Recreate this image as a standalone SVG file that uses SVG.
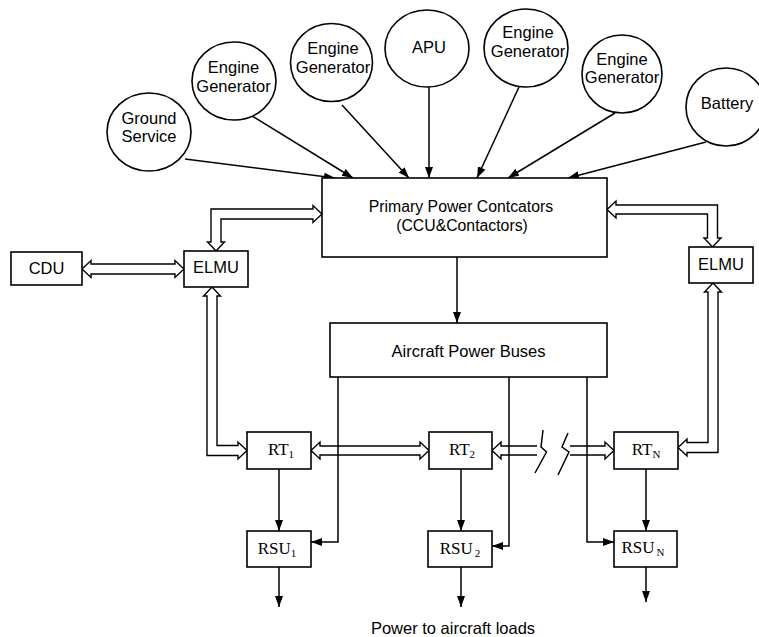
<svg xmlns="http://www.w3.org/2000/svg" width="759" height="637" viewBox="0 0 759 637">
<style>
.sh{fill:#fff;stroke:#000;stroke-width:1.6}
.ln{fill:none;stroke:#000;stroke-width:1.5}
.ha{fill:#fff;stroke:#000;stroke-width:1.4;stroke-linejoin:miter}
.t{font-family:"Liberation Sans",Arial,sans-serif;font-size:16.5px;fill:#000;text-anchor:middle}
.bt{font-size:15.8px}
.s{font-family:"Liberation Serif","Times New Roman",serif;font-size:17px;fill:#000;text-anchor:middle}
.sub{font-size:11px}
</style>
<defs>
<marker id="ah" markerUnits="userSpaceOnUse" markerWidth="12" markerHeight="10" refX="11" refY="4" orient="auto">
<path d="M0,0 L11,4 L0,8 z" fill="#000"/>
</marker>
</defs>
<rect width="759" height="637" fill="#fff"/>

<g id="connectors">
<line class="ln" x1="185" y1="159" x2="335" y2="178" marker-end="url(#ah)"/>
<line class="ln" x1="252" y1="116" x2="353" y2="178" marker-end="url(#ah)"/>
<line class="ln" x1="342" y1="105" x2="409" y2="178" marker-end="url(#ah)"/>
<line class="ln" x1="429" y1="87" x2="429" y2="178" marker-end="url(#ah)"/>
<line class="ln" x1="519" y1="87" x2="477" y2="178" marker-end="url(#ah)"/>
<line class="ln" x1="615" y1="113" x2="508" y2="178" marker-end="url(#ah)"/>
<line class="ln" x1="706" y1="142" x2="568" y2="178" marker-end="url(#ah)"/>
<line class="ln" x1="457" y1="257" x2="457" y2="323" marker-end="url(#ah)"/>

<polygon class="ha" points="82,269 91,260.5 91,264 175,264 175,260.5 184,269 175,277.5 175,274 91,274 91,277.5"/>
<polygon class="ha" points="216,251 224.5,242 221,242 221,219 313,219 313,222.5 322,214 313,205.5 313,209 211,209 211,242 207.5,242"/>
<polygon class="ha" points="607,209.5 616,201 616,205 717.5,205 717.5,238 721,238 712.5,247 704,238 707.5,238 707.5,214 616,214 616,218"/>
<polygon class="ha" points="212,287 220.5,296 217,296 217,445.5 238,445.5 238,442 247,450.5 238,459 238,455.5 207,455.5 207,296 203.5,296"/>
<polygon class="ha" points="713,283 721.5,292 718,292 718,452.5 687,452.5 687,456 678,447.5 687,439 687,442.5 708,442.5 708,292 704.5,292"/>
<polygon class="ha" points="311,450.5 320,442 320,446 420,446 420,442 429,450.5 420,459 420,455 320,455 320,459"/>
<path class="ha" d="M537,446 L501,446 L501,442 L492,450.5 L501,459 L501,455 L537,455"/>
<path class="ha" d="M570,446 L605,446 L605,442 L614,450.5 L605,459 L605,455 L570,455"/>
<polyline class="ln" points="543,430 541,447 546.5,452 535,473"/>
<polyline class="ln" points="568,433 562,447 569,452 558,475"/>

<line class="ln" x1="279" y1="469" x2="279" y2="531" marker-end="url(#ah)"/>
<line class="ln" x1="461" y1="469" x2="461" y2="531" marker-end="url(#ah)"/>
<line class="ln" x1="646" y1="469" x2="646" y2="531" marker-end="url(#ah)"/>
<polyline class="ln" points="338,377 338,542 311,542" marker-end="url(#ah)"/>
<polyline class="ln" points="509,377 509,546 492,546" marker-end="url(#ah)"/>
<polyline class="ln" points="587,377 587,542 614,542" marker-end="url(#ah)"/>
<line class="ln" x1="279" y1="567" x2="279" y2="607" marker-end="url(#ah)"/>
<line class="ln" x1="461" y1="567" x2="461" y2="607" marker-end="url(#ah)"/>
<line class="ln" x1="646" y1="567" x2="646" y2="602" marker-end="url(#ah)"/>
</g>

<g id="ground-service"><ellipse class="sh" cx="149" cy="132" rx="42" ry="39"/><text class="t" x="149" y="124">Ground</text><text class="t" x="149" y="142">Service</text></g>
<g id="engine-generator-1"><ellipse class="sh" cx="234" cy="81" rx="42" ry="39"/><text class="t" x="233.5" y="73">Engine</text><text class="t" x="233.5" y="92">Generator</text></g>
<g id="engine-generator-2"><ellipse class="sh" cx="331.5" cy="62.5" rx="41" ry="39"/><text class="t" x="333" y="54">Engine</text><text class="t" x="333" y="73">Generator</text></g>
<g id="apu"><ellipse class="sh" cx="427" cy="48.5" rx="42" ry="38.5"/><text class="t" x="429" y="53">APU</text></g>
<g id="engine-generator-3"><ellipse class="sh" cx="526" cy="48" rx="42" ry="39"/><text class="t" x="528" y="38">Engine</text><text class="t" x="528" y="57">Generator</text></g>
<g id="engine-generator-4"><ellipse class="sh" cx="622" cy="74" rx="40" ry="39"/><text class="t" x="622" y="65">Engine</text><text class="t" x="622" y="83">Generator</text></g>
<g id="battery"><ellipse class="sh" cx="726" cy="107" rx="40" ry="39"/><text class="t" x="727" y="109">Battery</text></g>

<g id="primary-power-contactors"><rect class="sh" x="322" y="178" width="285" height="79"/><text class="t bt" x="461" y="212">Primary Power Contcators</text><text class="t bt" x="462" y="231">(CCU&amp;Contactors)</text></g>
<g id="cdu"><rect class="sh" x="11" y="252" width="71" height="33"/><text class="t" x="46.5" y="274">CDU</text></g>
<g id="elmu-left"><rect class="sh" x="184" y="251" width="64" height="36"/><text class="t" x="216" y="273">ELMU</text></g>
<g id="elmu-right"><rect class="sh" x="689" y="247" width="64" height="36"/><text class="t" x="721" y="270">ELMU</text></g>
<g id="aircraft-power-buses"><rect class="sh" x="330" y="323" width="277" height="54"/><text class="t" x="468.5" y="357">Aircraft Power Buses</text></g>

<g id="rt1"><rect class="sh" x="247" y="432" width="64" height="37"/><text class="s" x="281" y="455">RT<tspan class="sub" dy="3">1</tspan></text></g>
<g id="rt2"><rect class="sh" x="429" y="432" width="63" height="37"/><text class="s" x="462" y="455">RT<tspan class="sub" dy="3">2</tspan></text></g>
<g id="rtn"><rect class="sh" x="614" y="432" width="64" height="37"/><text class="s" x="646" y="455">RT<tspan class="sub" dy="3">N</tspan></text></g>
<g id="rsu1"><rect class="sh" x="247" y="531" width="64" height="36"/><text class="s" x="277" y="554">RSU<tspan class="sub" dy="3">1</tspan></text></g>
<g id="rsu2"><rect class="sh" x="428" y="531" width="64" height="36"/><text class="s" x="460" y="554">RSU<tspan class="sub" dy="3" dx="2">2</tspan></text></g>
<g id="rsun"><rect class="sh" x="614" y="531" width="63" height="36"/><text class="s" x="643" y="553">RSU<tspan class="sub" dy="3" dx="2">N</tspan></text></g>

<g id="loads-label"><text class="t" x="453" y="634">Power to aircraft loads</text></g>
</svg>
